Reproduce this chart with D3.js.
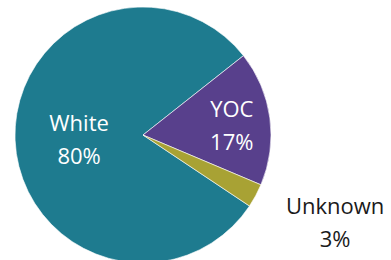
<!DOCTYPE html>
<html>
<head>
<meta charset="utf-8">
<script src="https://cdn.jsdelivr.net/npm/d3@7"></script>
<style>
  html, body { margin: 0; padding: 0; background: #fff; }
</style>
</head>
<body>
<div id="container"></div>
<script>
const categories = ["White", "YOC", "Unknown"];
const values = [80, 17, 3];
const colors = ["#1e7b8f", "#58408c", "#a8a234"];

const width = 391;
const height = 260;
const cx = 143;
const cy = 135;
const radius = 128;

const svg = d3.create("svg")
    .attr("width", width)
    .attr("height", height);

const data = categories.map((name, i) => ({name, value: values[i], color: colors[i]}));
const total = d3.sum(values);

const startDeg = 123.7;
const pie = d3.pie()
    .sort(null)
    .value(d => d.value)
    .startAngle(startDeg * Math.PI / 180)
    .endAngle(startDeg * Math.PI / 180 + 2 * Math.PI);

const arcs = pie(data);

const arc = d3.arc().innerRadius(0).outerRadius(radius);

const g = svg.append("g").attr("transform", `translate(${cx},${cy})`);

g.selectAll("path.slice")
    .data(arcs)
    .enter()
    .append("path")
    .attr("class", "slice")
    .attr("d", arc)
    .attr("fill", d => d.data.color)
    .attr("stroke", "#fff")
    .attr("stroke-width", 0.6);

// label radius per slice (fraction of radius), Excel puts the small one outside
const labelR = {White: 0.5, YOC: 0.7, Unknown: 1.5};

const labelPos = d => {
    const a = (d.startAngle + d.endAngle) / 2;
    const r = radius * labelR[d.data.name];
    let x = Math.sin(a) * r;
    let y = -Math.cos(a) * r;
    if (d.data.name === "Unknown") { x += 23; y -= 5; }
    if (d.data.name === "YOC") { y += 1; }
    return [x, y];
};

const labels = g.selectAll("text.label")
    .data(arcs)
    .enter()
    .append("text")
    .attr("class", "label")
    .attr("transform", d => `translate(${labelPos(d)})`)
    .attr("text-anchor", "middle")
    .attr("font-family", "'Open Sans', sans-serif")
    .attr("font-size", "22px")
    .attr("fill", d => d.data.name === "Unknown" ? "#1a1a1a" : "#fff");

labels.append("tspan")
    .attr("x", 0)
    .attr("y", -7)
    .text(d => d.data.name);

labels.append("tspan")
    .attr("x", 0)
    .attr("y", 26)
    .text(d => `${Math.round(d.data.value / total * 100)}%`);

d3.select("#container").append(() => svg.node());
</script>
</body>
</html>
